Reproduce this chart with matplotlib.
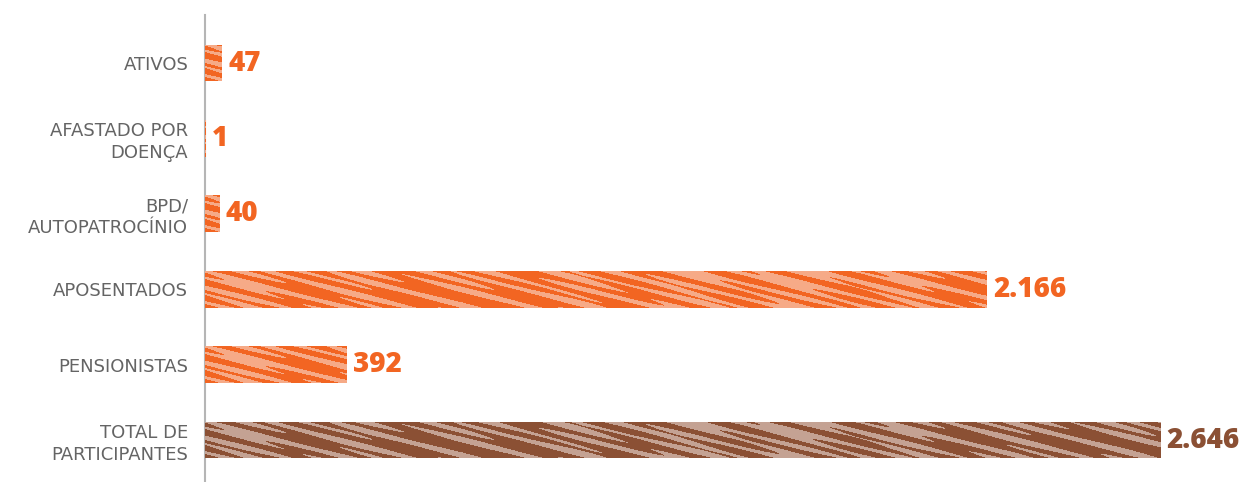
import numpy as np
import matplotlib
matplotlib.use("Agg")
import matplotlib.pyplot as plt
from matplotlib.colors import ListedColormap

# data
categories = ["ATIVOS", "AFASTADO POR\nDOENÇA", "BPD/\nAUTOPATROCÍNIO",
              "APOSENTADOS", "PENSIONISTAS", "TOTAL DE\nPARTICIPANTES"]
values = [47, 1, 40, 2166, 392, 2646]
value_labels = ["47", "1", "40", "2.166", "392", "2.646"]

orange = "#F26522"
orange_light = "#F6AA87"
brown = "#8B5034"
brown_light = "#C4A293"
dark_colors = [orange] * 5 + [brown]
light_colors = [orange_light] * 5 + [brown_light]

W, H = 1241, 482
fig = plt.figure(figsize=(W / 100, H / 100), dpi=100)
ax = fig.add_axes([205 / W, 0, (W - 205) / W, (H - 15) / H])

y = np.arange(len(categories))
bars = ax.barh(y, values, height=0.49, color=dark_colors, zorder=2)
ax.set_xlim(0, 2870)
ax.set_ylim(5.557, -0.637)

# streaky texture inside each bar
fig.canvas.draw()
for bar, dc, lc in zip(bars, dark_colors, light_colors):
    x0, y0 = bar.get_x(), bar.get_y()
    x1, y1 = x0 + bar.get_width(), y0 + bar.get_height()
    (px0, py0), (px1, py1) = ax.transData.transform([(x0, y0), (x1, y1)])
    nx = max(int(abs(px1 - px0)) + 1, 2)
    ny = max(int(abs(py1 - py0)) + 1, 2)
    u, v = np.meshgrid(np.arange(nx) + px0, np.arange(ny))
    f = (np.sin(2 * np.pi * (v - 0.26 * u) / 8.0)
         + 0.8 * np.sin(2 * np.pi * (v - 0.21 * u) / 13.0 + 1.3)
         + 0.6 * np.sin(2 * np.pi * (v - 0.31 * u) / 21.0 + 2.1)
         + 0.4 * np.sin(2 * np.pi * u / 110.0))
    pattern = (f > 0.15).astype(float)
    im = ax.imshow(pattern, extent=(x0, x1, y1, y0), aspect="auto",
                   cmap=ListedColormap([dc, lc]), vmin=0, vmax=1,
                   interpolation="nearest", zorder=3)
    im.set_clip_path(bar)
ax.set_xlim(0, 2870)
ax.set_ylim(5.557, -0.637)

# value labels
for yi, val, lab, dc in zip(y, values, value_labels, dark_colors):
    ax.text(val + 18, yi, lab, va="center", ha="left", color=dc,
            fontsize=20, fontweight="heavy", family="Open Sans", zorder=4)

ax.set_yticks(y)
ax.set_yticklabels(categories, fontsize=13, color="#646464",
                   family="DejaVu Sans", linespacing=1.25)
ax.tick_params(axis="y", length=0, pad=12)
ax.set_xticks([])
for s in ["top", "right", "bottom"]:
    ax.spines[s].set_visible(False)
ax.spines["left"].set_color("#b5b5b5")
ax.spines["left"].set_linewidth(1.5)
ax.patch.set_alpha(0)

fig.savefig("out.png", dpi=100)
